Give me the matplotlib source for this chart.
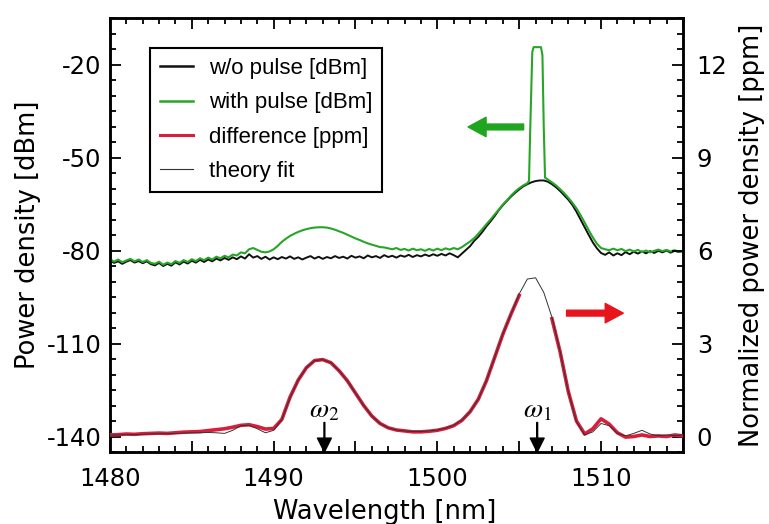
import numpy as np
import matplotlib
matplotlib.use("Agg")
import matplotlib.pyplot as plt
from matplotlib.ticker import MultipleLocator, FuncFormatter
from matplotlib.lines import Line2D

plt.rcParams['font.family'] = ['DejaVu Sans']
plt.rcParams['mathtext.fontset'] = 'stix'
plt.rcParams['axes.unicode_minus'] = False

# ---------------- data ----------------
wl_fine = np.round(np.arange(1480.0, 1515.001, 0.25), 2)   # 0.25 nm grid
wl_coarse = np.round(np.arange(1480.0, 1515.001, 0.5), 2)  # 0.5 nm grid

# w/o pulse [dBm], one row per nm (.00 .25 .50 .75)
black_dbm = [
    -83.2, -84.0, -83.5, -84.3,   # 1480
    -83.6, -83.1, -83.9, -83.4,   # 1481
    -84.1, -83.5, -84.4, -84.8,   # 1482
    -84.0, -85.0, -84.3, -84.9,   # 1483
    -83.8, -84.5, -83.6, -84.2,   # 1484
    -83.3, -83.9, -83.0, -83.7,   # 1485
    -82.9, -83.5, -82.6, -83.2,   # 1486
    -82.4, -83.0, -82.2, -82.8,   # 1487
    -81.9, -82.6, -81.2, -82.3,   # 1488
    -81.8, -82.7, -82.0, -82.9,   # 1489
    -82.2, -82.8, -82.1, -82.6,   # 1490
    -81.9, -82.7, -82.2, -82.9,   # 1491
    -82.3, -81.8, -82.6, -82.0,   # 1492
    -82.7, -82.1, -82.5, -81.8,   # 1493
    -82.4, -82.0, -82.6, -81.7,   # 1494
    -82.3, -81.9, -82.5, -81.6,   # 1495
    -82.2, -81.8, -82.4, -81.5,   # 1496
    -82.1, -81.7, -82.3, -81.6,   # 1497
    -82.0, -81.4, -82.1, -81.5,   # 1498
    -81.9, -81.3, -81.8, -81.2,   # 1499
    -81.7, -81.1, -81.6, -80.9,   # 1500
    -81.5, -82.2, -81.0, -79.8,   # 1501
    -78.6, -76.9, -75.6, -74.0,   # 1502
    -72.2, -70.6, -68.9, -67.0,   # 1503
    -65.4, -64.0, -62.6, -61.4,   # 1504
    -60.3, -59.3, -58.6, -58.0,   # 1505
    -57.6, -57.4, -57.4, -57.8,   # 1506
    -58.6, -59.6, -60.8, -62.2,   # 1507
    -63.6, -65.3, -67.5, -70.0,   # 1508
    -72.5, -75.0, -77.4, -79.3,   # 1509
    -80.8, -81.4, -80.6, -81.6,   # 1510
    -80.9, -81.5, -80.5, -81.2,   # 1511
    -80.4, -81.0, -80.3, -80.9,   # 1512
    -80.2, -80.8, -80.1, -80.6,   # 1513
    -80.0, -80.7, -80.1, -80.5,   # 1514
    -80.2,                        # 1515
]

# with pulse [dBm] (broad part), same grid
green_dbm = [
    -82.8, -83.6, -82.9, -83.8,   # 1480
    -83.2, -82.7, -83.5, -82.9,   # 1481
    -83.7, -83.1, -84.0, -84.3,   # 1482
    -83.6, -84.6, -83.9, -84.4,   # 1483
    -83.4, -84.0, -83.1, -83.7,   # 1484
    -82.8, -83.4, -82.5, -83.1,   # 1485
    -82.3, -82.9, -82.0, -82.5,   # 1486
    -81.7, -82.2, -81.3, -81.6,   # 1487
    -80.6, -80.9, -79.6, -79.2,   # 1488
    -79.8, -80.4, -80.6, -80.3,   # 1489
    -79.6, -78.5, -77.2, -76.2,   # 1490
    -75.3, -74.6, -74.0, -73.5,   # 1491
    -73.1, -72.8, -72.6, -72.5,   # 1492
    -72.5, -72.6, -72.9, -73.3,   # 1493
    -73.8, -74.3, -74.9, -75.5,   # 1494
    -76.1, -76.6, -77.2, -77.7,   # 1495
    -78.1, -78.5, -78.9, -79.0,   # 1496
    -79.3, -79.6, -79.2, -79.8,   # 1497
    -79.5, -80.0, -79.4, -79.9,   # 1498
    -79.6, -80.1, -79.5, -80.0,   # 1499
    -79.4, -79.9, -79.3, -79.7,   # 1500
    -79.2, -79.6, -78.9, -78.0,   # 1501
    -77.1, -76.0, -74.6, -73.1,   # 1502
    -71.5, -70.0, -68.4, -66.8,   # 1503
    -65.2, -63.8, -62.3, -61.0,   # 1504
    -59.9, -59.0, -58.3, -57.8,   # 1505
    -57.3, -57.0, -57.0, -57.1,   # 1506
    -58.0, -59.0, -60.2, -61.5,   # 1507
    -63.0, -64.6, -66.4, -68.6,   # 1508
    -71.0, -73.5, -75.8, -77.8,   # 1509
    -79.2, -79.6, -79.9, -79.4,   # 1510
    -79.9, -79.5, -80.2, -79.7,   # 1511
    -80.3, -79.8, -80.5, -80.0,   # 1512
    -80.6, -80.1, -79.7, -80.2,   # 1513
    -79.8, -80.3, -79.9, -80.4,   # 1514
    -80.1,                        # 1515
]

# narrow pump-pulse spike on the green trace (replaces the grid points it spans)
spike_wl = [1505.60, 1505.68, 1505.80, 1505.88, 1506.33, 1506.42, 1506.50, 1506.58]
spike_dbm = [-57.5, -40.0, -16.0, -14.4, -14.4, -17.0, -40.0, -56.5]

# difference [ppm] on 0.5 nm grid (nan where not shown)
nan = np.nan
diff_ppm = [
    0.05, 0.06, 0.08, 0.07,   # 1480.0 - 1481.5
    0.09, 0.10, 0.11, 0.10,   # 1482.0 - 1483.5
    0.12, 0.14, 0.15, 0.16,   # 1484.0 - 1485.5
    0.19, 0.22, 0.25, 0.30,   # 1486.0 - 1487.5
    0.36, 0.38, 0.32, 0.24,   # 1488.0 - 1489.5
    0.26, 0.55, 1.27, 1.82,   # 1490.0 - 1491.5
    2.22, 2.45, 2.48, 2.38,   # 1492.0 - 1493.5
    2.12, 1.80, 1.40, 1.00,   # 1494.0 - 1495.5
    0.66, 0.42, 0.28, 0.21,   # 1496.0 - 1497.5
    0.18, 0.15, 0.15, 0.17,   # 1498.0 - 1499.5
    0.20, 0.26, 0.35, 0.52,   # 1500.0 - 1501.5
    0.80, 1.20, 1.80, 2.55,   # 1502.0 - 1503.5
    3.30, 3.95, 4.55, nan,    # 1504.0 - 1505.5
    nan, nan, 3.80, 2.73,     # 1506.0 - 1507.5
    1.45, 0.50, 0.08, 0.25,   # 1508.0 - 1509.5
    0.57, 0.40, 0.12, -0.02,  # 1510.0 - 1511.5
    0.00, 0.05, 0.00, 0.02,   # 1512.0 - 1513.5
    0.00, 0.05, 0.02,         # 1514.0 - 1515.0
]

# theory fit [ppm] on 0.5 nm grid
theory_ppm = [
    0.04, 0.05, 0.06, 0.06,   # 1480.0 - 1481.5
    0.07, 0.08, 0.09, 0.09,   # 1482.0 - 1483.5
    0.10, 0.11, 0.12, 0.12,   # 1484.0 - 1485.5
    0.13, 0.12, 0.10, 0.20,   # 1486.0 - 1487.5
    0.35, 0.36, 0.25, 0.12,   # 1488.0 - 1489.5
    0.20, 0.55, 1.25, 1.82,   # 1490.0 - 1491.5
    2.22, 2.45, 2.48, 2.38,   # 1492.0 - 1493.5
    2.12, 1.80, 1.40, 1.00,   # 1494.0 - 1495.5
    0.66, 0.42, 0.28, 0.21,   # 1496.0 - 1497.5
    0.18, 0.16, 0.16, 0.18,   # 1498.0 - 1499.5
    0.21, 0.27, 0.36, 0.53,   # 1500.0 - 1501.5
    0.80, 1.20, 1.80, 2.55,   # 1502.0 - 1503.5
    3.30, 3.95, 4.60, 5.08,   # 1504.0 - 1505.5
    5.12, 4.65, 3.85, 2.75,   # 1506.0 - 1507.5
    1.45, 0.48, 0.05, 0.15,   # 1508.0 - 1509.5
    0.42, 0.35, 0.10, 0.02,   # 1510.0 - 1511.5
    0.10, 0.20, 0.08, 0.02,   # 1512.0 - 1513.5
    0.05, 0.03, 0.05,         # 1514.0 - 1515.0
]

omega_pos = [1493.1, 1506.1]
omega_labels = [r'$\omega_2$', r'$\omega_1$']

labels = ['w/o pulse [dBm]', 'with pulse [dBm]', 'difference [ppm]', 'theory fit']
yticks_left = [-140, -110, -80, -50, -20]
yticks_right = [0, 3, 6, 9, 12]

# ---------------- styling ----------------
c_black = '#111111'
c_green = '#27a527'
c_red = '#d81e3c'
c_theory = '#333333'
c_arrow_red = '#e8141c'
c_arrow_green = '#1fa51f'

# merge spike into green trace
wl_arr = np.asarray(wl_fine)
g_base = np.asarray(green_dbm)
keep = (wl_arr < spike_wl[0]) | (wl_arr > spike_wl[-1])
g_wl = np.concatenate([wl_arr[keep], spike_wl])
g_db = np.concatenate([g_base[keep], spike_dbm])
order = np.argsort(g_wl)
g_wl, g_db = g_wl[order], g_db[order]

fig = plt.figure(figsize=(7.69, 5.24), dpi=100)
ax = fig.add_axes([0.143, 0.1374, 0.745, 0.8282])
ax2 = ax.twinx()

ax.plot(wl_fine, black_dbm, color=c_black, lw=1.4, zorder=3)
ax.plot(g_wl, g_db, color=c_green, lw=1.5, zorder=4)
ax2.plot(wl_coarse, diff_ppm, color=c_red, lw=2.6, zorder=3)
ax2.plot(wl_coarse, theory_ppm, color=c_theory, lw=0.7, zorder=4)

ax.set_xlim(1480, 1515)
ax.set_ylim(-145, -5)
ax2.set_ylim(-0.5, 13.5)

fs_tick = 17.5
fs_label = 18.5

ax.xaxis.set_major_locator(MultipleLocator(5))
ax.xaxis.set_minor_locator(MultipleLocator(1))
ax.xaxis.set_major_formatter(FuncFormatter(lambda v, p: f'{int(round(v))}' if int(round(v)) % 10 == 0 else ''))
ax.set_yticks(yticks_left)
ax.yaxis.set_minor_locator(MultipleLocator(5))
ax2.set_yticks(yticks_right)
ax2.yaxis.set_minor_locator(MultipleLocator(0.5))

ax.tick_params(which='both', direction='in', top=True, right=False, width=1.3, labelsize=fs_tick)
ax.tick_params(axis='x', which='major', pad=11)
ax.tick_params(axis='y', which='major', pad=6)
ax.tick_params(which='major', length=8)
ax.tick_params(which='minor', length=4.5)
ax2.tick_params(which='both', direction='in', right=True, left=False, width=1.3, labelsize=fs_tick, pad=10)
ax2.tick_params(which='major', length=8)
ax2.tick_params(which='minor', length=4.5)

for a in (ax, ax2):
    for s in a.spines.values():
        s.set_linewidth(1.8)

ax.set_xlabel('Wavelength [nm]', fontsize=fs_label, labelpad=1)
ax.xaxis.set_label_coords(0.48, -0.108)
ax.set_ylabel('Power density [dBm]', fontsize=fs_label, labelpad=4)
ax2.set_ylabel('Normalized power density [ppm]', fontsize=fs_label, labelpad=8)

# omega markers
xt = ax.get_xaxis_transform()
for pos, lab in zip(omega_pos, omega_labels):
    ax.annotate('', xy=(pos, 0.0), xytext=(pos, 0.068), xycoords=xt, textcoords=xt,
                arrowprops=dict(width=0.6, headwidth=10, headlength=10, color='black', shrink=0))
    ax.text(pos, 0.066, lab, transform=xt, ha='center', va='bottom', fontsize=20)

# direction arrows
ax.annotate('', xy=(0.625, 0.749), xytext=(0.722, 0.749), xycoords='axes fraction',
            arrowprops=dict(width=4.2, headwidth=14, headlength=13, color=c_arrow_green, shrink=0))
ax.annotate('', xy=(0.896, 0.320), xytext=(0.797, 0.320), xycoords='axes fraction',
            arrowprops=dict(width=4.2, headwidth=14, headlength=13, color=c_arrow_red, shrink=0))

handles = [Line2D([], [], color=c_black, lw=1.8),
           Line2D([], [], color=c_green, lw=1.8),
           Line2D([], [], color=c_red, lw=2.2),
           Line2D([], [], color=c_theory, lw=0.8)]
leg = ax2.legend(handles, labels, loc='upper left', bbox_to_anchor=(0.07, 0.931),
                 prop={'family': ['Liberation Sans', 'DejaVu Sans'], 'size': 16},
                 frameon=True, fancybox=False, framealpha=1,
                 edgecolor='black', borderaxespad=0, handlelength=1.5,
                 handletextpad=0.7, labelspacing=0.6, borderpad=0.45)
leg.get_frame().set_linewidth(1.5)

fig.savefig('out.png', dpi=100)
